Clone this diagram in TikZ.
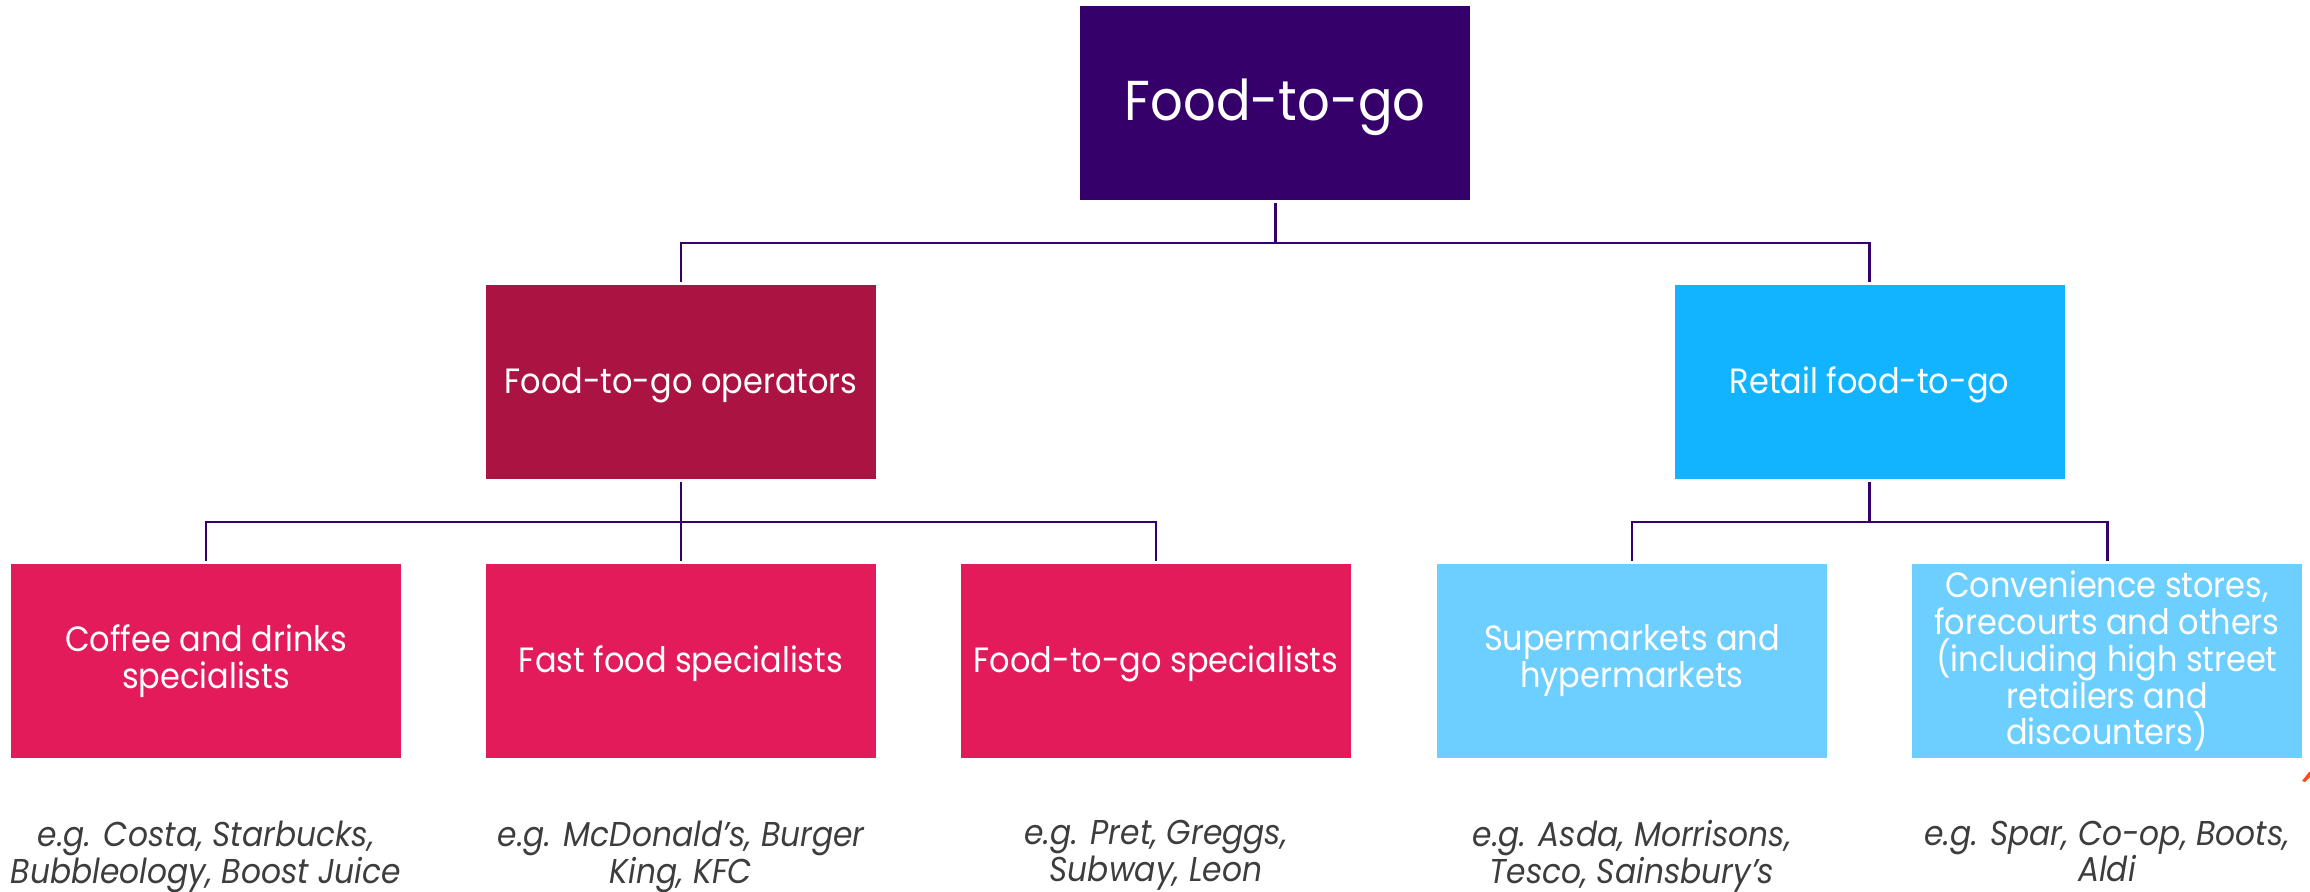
\documentclass[tikz,border=0pt]{standalone}
\usepackage{fontspec}
\setmainfont{Poppins}[FakeStretch=0.91]
\usetikzlibrary{positioning,calc}
\definecolor{topviolet}{RGB}{54,0,106}
\definecolor{opred}{RGB}{171,20,66}
\definecolor{oppink}{RGB}{227,27,90}
\definecolor{retblue}{RGB}{18,180,255}
\definecolor{retlight}{RGB}{109,207,255}
\definecolor{linkviolet}{RGB}{53,0,107}
\definecolor{exgray}{RGB}{61,61,61}
\definecolor{markorange}{RGB}{255,74,28}
\tikzset{
	orgbox/.style={
		rectangle,
		inner sep=0pt,
		outer sep=0pt,
		minimum width=39mm,
		minimum height=19.4mm,
		align=center,
		text=white,
		font=\fontsize{10}{10.5}\selectfont,
	},
	oneline/.style={
		text depth=1pt,
	},
	topbox/.style={
		orgbox,
		text depth=2pt,
		fill=topviolet,
		font=\fontsize{16}{18}\selectfont,
	},
	opbox/.style={
		orgbox,
		oneline,
		fill=opred,
	},
	opchild/.style={
		orgbox,
		fill=oppink,
	},
	retbox/.style={
		orgbox,
		oneline,
		fill=retblue,
	},
	retchild/.style={
		orgbox,
		fill=retlight,
	},
	example/.style={
		align=center,
		inner sep=0pt,
		text=exgray,
		font=\fontsize{9.8}{10.5}\selectfont\itshape,
	},
	link/.style={
		draw=linkviolet,
		line width=0.85pt,
	},
	linkgap/.style={
		link,
		shorten <=0.3mm,
		shorten >=0.3mm,
	}
}
\begin{document}
\begin{tikzpicture}[x=0.1mm,y=-0.1mm,node distance=8.5mm]
	\useasboundingbox (0,0) rectangle (2310,892);

	\node [opchild] (coffee) at (206,661) {Coffee and drinks\\specialists};
	\node [opchild, oneline, right=of coffee] (fastfood) {Fast food specialists};
	\node [opchild, oneline, right=of fastfood] (ftgspec) {Food-to-go specialists};
	\node [retchild, right=8.6mm of ftgspec] (super) {Supermarkets and\\hypermarkets};
	\node [retchild, right=of super] (conv) {Convenience stores,\\forecourts and others\\(including high street\\retailers and\\discounters)};

	\node [opbox, above=of fastfood] (ops) {Food-to-go operators};
	\coordinate (rmid) at ($(super.north)!0.5!(conv.north)$);
	\node [retbox, above=of rmid] (retail) {Retail food-to-go};
	\coordinate (tmid) at ($(ops.north)!0.5!(retail.north)$);
	\node [topbox, above=of tmid] (ftg) {Food-to-go};

	\node [example, below=6.2mm of coffee] (coffeeex) {e.g. Costa, Starbucks,\\Bubbleology, Boost Juice};
	\node [example, below=6.2mm of fastfood] (fastfoodex) {e.g. McDonald’s, Burger\\King, KFC};
	\node [example, below=6.2mm of ftgspec] (ftgspecex) {e.g. Pret, Greggs,\\Subway, Leon};
	\node [example, below=6.2mm of super] (superex) {e.g. Asda, Morrisons,\\Tesco, Sainsbury’s};
	\node [example, below=6.2mm of conv] (convex) {e.g. Spar, Co-op, Boots,\\Aldi};

	\coordinate (tbus) at ([yshift=-4.3mm]ftg.south);
	\coordinate (obus) at ([yshift=-4.3mm]ops.south);
	\coordinate (rbus) at ([yshift=-4.3mm]retail.south);

	\draw[link, shorten <=0.3mm] (ftg.south) -- (tbus);
	\draw[linkgap] (ops.north) |- (tbus) -| (retail.north);
	\draw[linkgap] (ops.south) -- (fastfood.north);
	\draw[linkgap] (coffee.north) |- (obus) -| (ftgspec.north);
	\draw[link, shorten <=0.3mm] (retail.south) -- (rbus);
	\draw[linkgap] (super.north) |- (rbus) -| (conv.north);

	\fill[markorange] (2302,781) -- (2309,772) -- (2310,772) -- (2310,777) -- (2305,782) -- cycle;
\end{tikzpicture}
\end{document}
